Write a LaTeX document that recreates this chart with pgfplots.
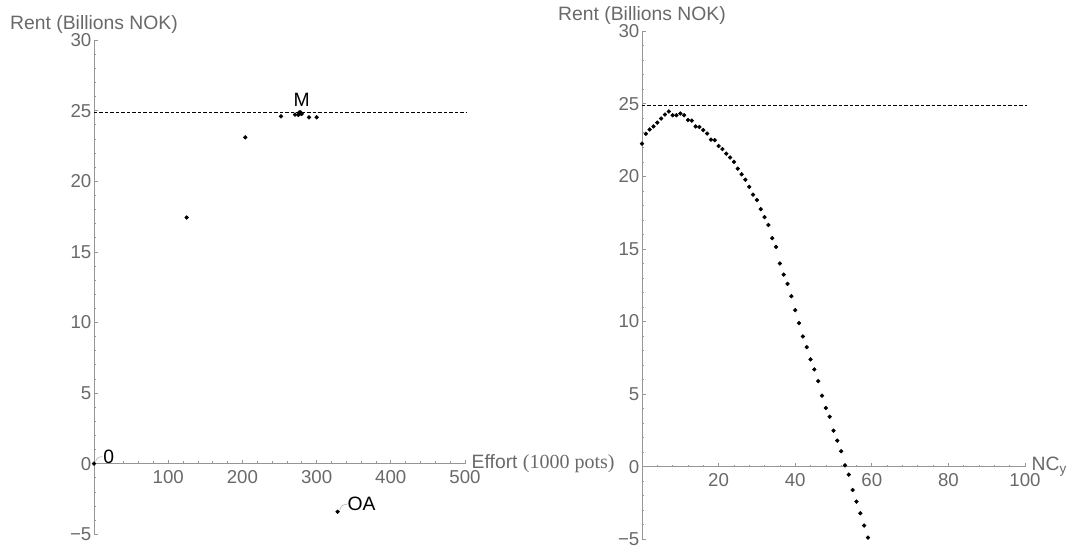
\documentclass[border=0pt]{standalone}
\usepackage{fontspec}
\setmainfont{Liberation Sans}
\newfontfamily\seriffont{Liberation Serif}
\usepackage{pgfplots}
\pgfplotsset{compat=1.18}
\definecolor{tickgray}{RGB}{105,105,105}
\definecolor{axgray}{RGB}{150,150,150}
\definecolor{leadgray}{RGB}{175,175,175}
\pgfplotsset{mstyle/.style={
  scale only axis, axis lines*=middle, clip=false,
  ymin=-5, ymax=30, ytick={-5,0,5,10,15,20,25,30},
  yticklabels={−5,0,5,10,15,20,25,30},
  minor tick num=4, tick align=inside,
  major tick length=2.8pt, minor tick length=1.6pt,
  axis line style={axgray, line width=0.6pt},
  every tick/.style={axgray, line width=0.5pt},
  tick label style={font=\fontsize{14}{16}\selectfont, text=tickgray},
  /pgf/number format/assume math mode=true,
  hide obscured x ticks=false, hide obscured y ticks=false,
  yticklabel style={xshift=1.5pt},
  xticklabel style={yshift=-1.5pt},
  every axis y label/.style={at={(axis description cs:0,1)}, anchor=base, yshift=8pt,
     font=\fontsize{14.5}{16}\selectfont, text=tickgray},
  every axis x label/.style={at={(axis description cs:1,0.142857)}, anchor=west, xshift=1.5pt,
     font=\fontsize{14.5}{16}\selectfont, text=tickgray},
}}
\begin{document}
\begin{tikzpicture}
\path[use as bounding box] (0,0) rectangle (806.25pt,-415.5pt);
% ---------- left panel ----------
\begin{axis}[mstyle,
  at={(70.5pt,-400.65pt)}, anchor=south west,
  width=278.25pt, height=370.6pt,
  xmin=0, xmax=500, xtick={0,100,...,500}, xticklabels={,100,200,300,400,500},
  ylabel={Rent (Billions NOK)},
  xlabel={Effort {\seriffont\fontsize{15}{16}\selectfont(1000 pots)}},
]
\addplot[black, line width=0.6pt, dash pattern=on 2.6pt off 1.5pt] coordinates {(0,24.9) (503,24.9)};
\addplot[only marks, mark=*, mark size=1.4pt, black] coordinates {
 (0,0) (124.9,17.43) (203.9,23.11) (252,24.6) (270.9,24.72) (275.3,24.7)
 (279.9,24.77) (289.8,24.53) (300.1,24.53) (328.2,-3.41)
};
\addplot[only marks, mark=*, mark size=1.8pt, black] coordinates {(277.6,24.84)};
\draw[leadgray, line width=0.4pt] (axis cs:2,0.15) .. controls (axis cs:5,0.45) .. (axis cs:11,0.5);
\draw[leadgray, line width=0.4pt] (axis cs:331,-3.3) .. controls (axis cs:334,-2.95) .. (axis cs:342,-2.85);
\node[font=\fontsize{14.5}{16}\selectfont, text=black] at (axis cs:20,0.5) {0};
\node[font=\fontsize{14.5}{16}\selectfont, text=black] at (axis cs:360.7,-2.87) {OA};
\node[font=\fontsize{14.5}{16}\selectfont, text=black] at (axis cs:279.9,25.75) {M};
\end{axis}
% ---------- right panel ----------
\begin{axis}[mstyle,
  at={(481.5pt,-404.4pt)}, anchor=south west,
  width=287.25pt, height=381pt,
  xmin=0, xmax=100, xtick={0,20,...,100}, xticklabels={,20,40,60,80,100},
  ylabel={Rent (Billions NOK)},
  xlabel={NC\textsubscript{y}},
]
\addplot[black, line width=0.6pt, dash pattern=on 2.6pt off 1.5pt] coordinates {(0,24.9) (100.5,24.9)};
\addplot[only marks, mark=*, mark size=1.4pt, black] table {
x y
0 22.25
1 22.93
2 23.23
3 23.44
4 23.70
5 23.98
6 24.26
7 24.47
8 24.21
9 24.21
10 24.33
11 24.21
12 23.88
13 23.84
14 23.44
15 23.40
16 23.19
17 22.95
18 22.53
19 22.49
20 22.09
21 21.88
22 21.56
23 21.30
24 21.00
25 20.53
26 20.14
27 19.77
28 19.28
29 18.74
30 18.37
31 17.74
32 17.19
33 16.65
34 15.74
35 15.14
36 14.00
37 13.23
38 12.59
39 11.74
40 10.78
41 9.89
42 8.97
43 8.23
44 7.39
45 6.70
46 5.89
47 4.89
48 4.04
49 3.44
50 2.48
51 1.79
52 1.06
53 0.09
54 -0.55
55 -1.61
56 -2.41
57 -3.21
58 -4.06
59 -4.89
};
\end{axis}
\end{tikzpicture}
\end{document}
